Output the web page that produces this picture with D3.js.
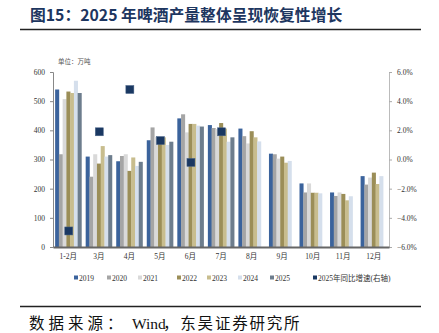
<!DOCTYPE html>
<html><head><meta charset="utf-8">
<script src="https://cdn.jsdelivr.net/npm/d3@7/dist/d3.min.js"></script>
<style>body{margin:0;background:#fff;} svg{display:block;}</style>
</head><body>
<svg id="c" width="439" height="333"></svg>
<script>
const categories = ["1-2月","3月","4月","5月","6月","7月","8月","9月","10月","11月","12月"];
const seriesNames = ["2019","2020","2021","2022","2023","2024","2025"];
const s2019 = [540,310,294,366,441,418,406,320,218,187,243];
const s2020 = [318,241,312,410,455,408,380,318,187,175,214];
const s2021 = [507,318,318,378,393,404,355,303,218,187,238];
const s2022 = [533,286,261,376,422,425,397,310,186,182,255];
const s2023 = [528,346,307,376,422,406,376,289,186,160,216];
const s2024 = [570,310,278,350,416,361,362,295,184,174,243];
const s2025 = [528,315,292,361,413,376,null,null,null,null,null];
const growth2025 = [-4.9,1.9,4.8,1.3,-0.2,1.9,null,null,null,null,null];
const leftTicks = [0,100,200,300,400,500,600];
const rightTicks = [-6,-4,-2,0,2,4,6];
const colors = ["#3b639c","#a5a5a5","#d9d9d9","#9b8e58","#c8bd8e","#d5dfec","#6d7d8d"];
const markerColor = "#1a3862";

const svg = d3.select("#c");
const series = [s2019,s2020,s2021,s2022,s2023,s2024,s2025];
const L = 53, R = 389, T = 72, B = 247;
const serif = "'Liberation Serif','Noto Sans CJK SC',serif";

// title
svg.append("text").attr("x",30).attr("y",21).attr("font-family","'Noto Sans CJK SC',sans-serif")
  .attr("font-weight","bold").attr("font-size",15.8).attr("fill","#1d3660")
  .text("图15：2025 年啤酒产量整体呈现恢复性增长");
svg.append("line").attr("x1",20).attr("x2",421).attr("y1",29.5).attr("y2",29.5).attr("stroke","#222").attr("stroke-width",1.5);
svg.append("line").attr("x1",20).attr("x2",421).attr("y1",306.5).attr("y2",306.5).attr("stroke","#222").attr("stroke-width",1.5);
const src = svg.append("text").attr("y",329).attr("font-family",serif).attr("font-size",15.5).attr("fill","#111");
src.append("tspan").attr("x",29).attr("letter-spacing",4).text("数据来源：");
src.append("tspan").attr("x",132).text("Wind");
src.append("tspan").attr("x",163).attr("letter-spacing",1.8).text("，东吴证券研究所");

svg.append("text").attr("x",58).attr("y",64).attr("font-family","'Noto Sans CJK SC',sans-serif").attr("font-size",6.5).attr("fill","#555")
  .text("单位：万吨");

const x0 = d3.scaleBand().domain(categories).range([L,R]).paddingInner(0.14).paddingOuter(0.07);
const x1 = d3.scaleBand().domain(seriesNames).range([0,x0.bandwidth()]).padding(0);
const y = d3.scaleLinear().domain([0,600]).range([B,T]);
const yr = d3.scaleLinear().domain([-6,6]).range([B,T]);

// bars
series.forEach((arr,si)=>{
  svg.append("g").selectAll("rect").data(arr.map((v,i)=>({v,c:categories[i]})).filter(d=>d.v!=null))
    .join("rect")
    .attr("x",d=>x0(d.c)+x1(seriesNames[si]))
    .attr("width",x1.bandwidth()+0.3)
    .attr("y",d=>y(d.v)).attr("height",d=>B-y(d.v))
    .attr("fill",colors[si]);
});

// left axis
const ga = svg.append("g").attr("transform",`translate(${L},0)`)
  .call(d3.axisLeft(y).tickValues(leftTicks).tickSize(3).tickPadding(5));
ga.select(".domain").attr("stroke","#888");
ga.selectAll(".tick line").attr("stroke","#888");
ga.selectAll("text").attr("font-family",serif).attr("font-size",7.5).attr("fill","#333");
ga.selectAll(".tick").filter(d=>d===0).select("line").remove();

// right axis
const gr = svg.append("g").attr("transform",`translate(${R},0)`)
  .call(d3.axisRight(yr).tickValues(rightTicks).tickSize(3).tickPadding(5).tickFormat(d=>d3.format(".1f")(d)+"%"));
gr.select(".domain").attr("stroke","#bbb");
gr.selectAll(".tick line").attr("stroke","#aaa");
gr.selectAll("text").attr("font-family",serif).attr("font-size",7.5).attr("fill","#333");

// bottom axis
const gb = svg.append("g").attr("transform",`translate(0,${B})`)
  .call(d3.axisBottom(x0).tickSize(0).tickPadding(7));
gb.select(".domain").attr("stroke","#666").attr("stroke-width",2);
gb.selectAll("text").attr("font-family",serif).attr("font-size",7.5).attr("fill","#333");

// markers
const ms = 8;
svg.append("g").selectAll("rect").data(growth2025.map((v,i)=>({v,c:categories[i]})).filter(d=>d.v!=null))
  .join("rect")
  .attr("x",d=>x0(d.c)+x0.bandwidth()/2-ms/2+0.5).attr("y",d=>yr(d.v)-ms/2)
  .attr("width",ms).attr("height",ms).attr("fill",markerColor).attr("stroke","#4a6488").attr("stroke-width",0.5);

// legend
const legendItems = seriesNames.map((n,i)=>({n,c:colors[i]})).concat([{n:"2025年同比增速(右轴)",c:markerColor}]);
const lx = [74,107,138,177,207,238,270,313];
const lg = svg.append("g");
legendItems.forEach((d,i)=>{
  lg.append("rect").attr("x",lx[i]).attr("y",275.5).attr("width",4).attr("height",4).attr("fill",d.c);
  lg.append("text").attr("x",lx[i]+5).attr("y",280.5).attr("font-family",serif).attr("font-size",7.5).attr("fill","#333").text(d.n);
});
</script>
</body></html>
